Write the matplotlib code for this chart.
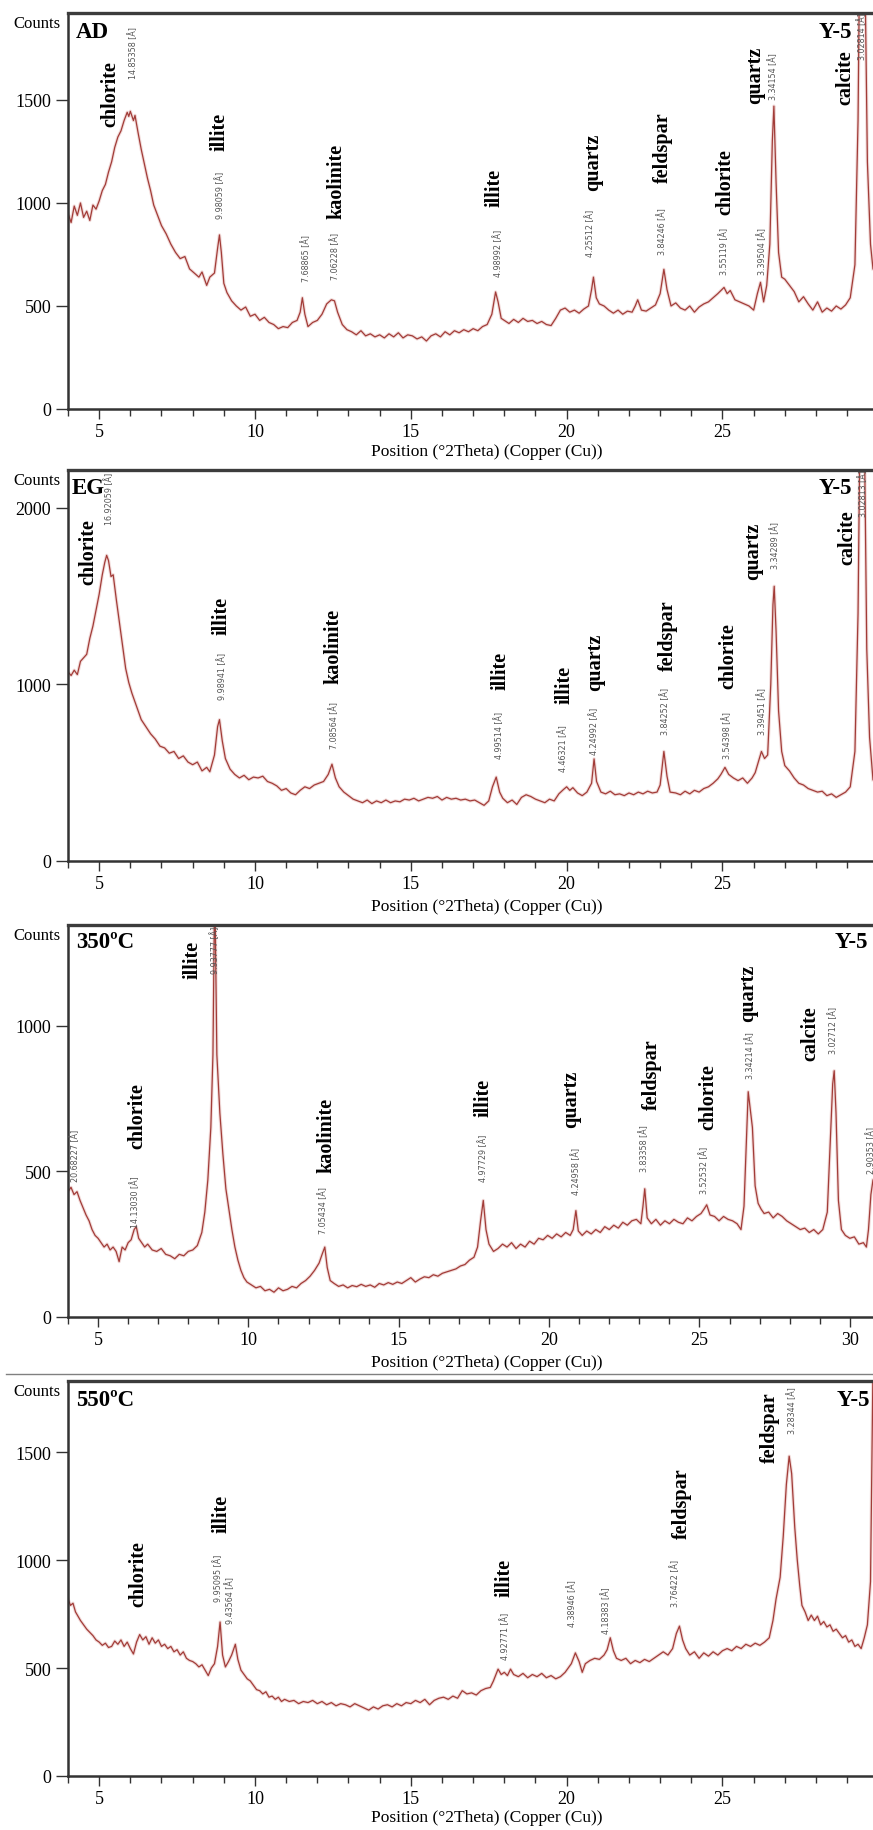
import matplotlib.pyplot as plt
from matplotlib.ticker import MultipleLocator

plt.rcParams['font.family'] = ['Liberation Serif', 'DejaVu Serif']

W, H = 873, 1831

# ---------------- data (2theta in degrees, intensity in counts) ----------------
ad_2theta = [
    4.00, 4.10, 4.20, 4.30, 4.40, 4.50, 4.60, 4.70, 4.80, 4.90,
    5.00, 5.10, 5.20, 5.30, 5.40, 5.50, 5.60, 5.70, 5.80, 5.90,
    5.95, 6.00, 6.10, 6.15, 6.25, 6.35, 6.45, 6.55, 6.65, 6.75,
    6.85, 7.00, 7.15, 7.30, 7.45, 7.60, 7.75, 7.90, 8.05, 8.20,
    8.30, 8.45, 8.55, 8.70, 8.80, 8.86, 8.92, 9.00, 9.10, 9.25,
    9.40, 9.55, 9.70, 9.85, 10.00, 10.15, 10.30, 10.45, 10.60, 10.75,
    10.90, 11.05, 11.20, 11.35, 11.45, 11.52, 11.60, 11.70, 11.85, 12.00,
    12.15, 12.30, 12.45, 12.55, 12.65, 12.80, 12.95, 13.10, 13.25, 13.40,
    13.55, 13.70, 13.85, 14.00, 14.15, 14.30, 14.45, 14.60, 14.75, 14.90,
    15.05, 15.20, 15.35, 15.50, 15.65, 15.80, 15.95, 16.10, 16.25, 16.40,
    16.55, 16.70, 16.85, 17.00, 17.15, 17.30, 17.45, 17.60, 17.72, 17.80,
    17.90, 18.00, 18.15, 18.30, 18.45, 18.60, 18.75, 18.90, 19.05, 19.20,
    19.35, 19.50, 19.65, 19.80, 19.95, 20.10, 20.25, 20.40, 20.55, 20.70,
    20.80, 20.86, 20.95, 21.05, 21.20, 21.35, 21.50, 21.65, 21.80, 21.95,
    22.10, 22.20, 22.28, 22.40, 22.55, 22.70, 22.85, 23.00, 23.12, 23.22,
    23.35, 23.50, 23.65, 23.80, 23.95, 24.10, 24.25, 24.40, 24.55, 24.70,
    24.85, 24.95, 25.05, 25.15, 25.25, 25.40, 25.55, 25.70, 25.85, 26.00,
    26.12, 26.22, 26.32, 26.42, 26.52, 26.60, 26.65, 26.72, 26.80, 26.90,
    27.00, 27.15, 27.30, 27.45, 27.60, 27.75, 27.90, 28.05, 28.20, 28.35,
    28.50, 28.65, 28.80, 28.95, 29.10, 29.25, 29.35, 29.42, 29.47, 29.55,
    29.65, 29.75, 29.83,
]
ad_counts = [
    950, 905, 985, 940, 1000, 930, 960, 915, 990, 970,
    1010, 1060, 1090, 1150, 1200, 1270, 1320, 1350, 1400, 1440,
    1420, 1445, 1400, 1425, 1340, 1260, 1190, 1120, 1060, 990,
    950, 890, 850, 800, 760, 730, 740, 680, 660, 640,
    665, 600, 640, 660, 780, 845, 760, 610, 565, 525,
    500, 480, 495, 450, 460, 430, 445, 420, 410, 390,
    400, 395, 420, 430, 470, 540, 460, 400, 420, 430,
    460, 510, 530, 525, 470, 410, 385, 375, 360, 380,
    355, 365, 350, 360, 345, 365, 350, 370, 345, 360,
    355, 340, 350, 330, 355, 365, 350, 375, 360, 380,
    370, 385, 375, 390, 380, 400, 410, 460, 568, 520,
    440, 430, 415, 435, 420, 440, 425, 430, 415, 425,
    410, 405, 440, 480, 490, 470, 480, 465, 485, 500,
    580, 640, 540, 510, 500, 480, 465, 480, 460, 475,
    470, 500, 530, 480, 475, 490, 505, 560, 678, 580,
    500, 515, 490, 480, 500, 470, 495, 510, 520, 540,
    560, 575, 590, 560, 575, 530, 520, 510, 500, 480,
    560, 615, 520, 600, 800, 1300, 1470, 1100, 760, 640,
    630, 600, 570, 520, 545, 510, 480, 520, 470, 490,
    475, 500, 485, 505, 540, 700, 1400, 2500, 3000, 2400,
    1200, 800, 680,
]

eg_2theta = [
    4.00, 4.10, 4.20, 4.30, 4.40, 4.50, 4.60, 4.70, 4.80, 4.90,
    5.00, 5.10, 5.18, 5.24, 5.30, 5.38, 5.45, 5.55, 5.65, 5.75,
    5.85, 5.95, 6.05, 6.15, 6.25, 6.35, 6.50, 6.65, 6.80, 6.95,
    7.10, 7.25, 7.40, 7.55, 7.70, 7.85, 8.00, 8.15, 8.30, 8.45,
    8.55, 8.70, 8.80, 8.86, 8.95, 9.05, 9.20, 9.35, 9.50, 9.65,
    9.80, 9.95, 10.10, 10.25, 10.40, 10.55, 10.70, 10.85, 11.00, 11.15,
    11.30, 11.45, 11.60, 11.75, 11.90, 12.05, 12.20, 12.35, 12.47, 12.58,
    12.70, 12.85, 13.00, 13.15, 13.30, 13.45, 13.60, 13.75, 13.90, 14.05,
    14.20, 14.35, 14.50, 14.65, 14.80, 14.95, 15.10, 15.25, 15.40, 15.55,
    15.70, 15.85, 16.00, 16.15, 16.30, 16.45, 16.60, 16.75, 16.90, 17.05,
    17.20, 17.35, 17.50, 17.62, 17.74, 17.85, 17.95, 18.10, 18.25, 18.40,
    18.55, 18.70, 18.85, 19.00, 19.15, 19.30, 19.45, 19.60, 19.75, 19.90,
    20.00, 20.10, 20.20, 20.35, 20.50, 20.65, 20.80, 20.88, 20.96, 21.10,
    21.25, 21.40, 21.55, 21.70, 21.85, 22.00, 22.15, 22.30, 22.45, 22.60,
    22.75, 22.90, 23.00, 23.12, 23.22, 23.32, 23.50, 23.65, 23.80, 23.95,
    24.10, 24.25, 24.40, 24.55, 24.70, 24.85, 24.95, 25.08, 25.20, 25.35,
    25.50, 25.65, 25.80, 25.95, 26.05, 26.15, 26.25, 26.35, 26.45, 26.55,
    26.62, 26.66, 26.72, 26.80, 26.90, 27.00, 27.15, 27.30, 27.45, 27.60,
    27.75, 27.90, 28.05, 28.20, 28.35, 28.50, 28.65, 28.80, 28.95, 29.10,
    29.25, 29.35, 29.42, 29.47, 29.55, 29.63, 29.72, 29.83,
]
eg_counts = [
    1070, 1050, 1080, 1055, 1130, 1150, 1170, 1260, 1330, 1420,
    1510, 1620, 1690, 1730, 1700, 1610, 1620, 1480, 1350, 1220,
    1090, 1010, 950, 900, 850, 800, 760, 720, 690, 650,
    640, 610, 620, 580, 595, 560, 545, 560, 510, 530,
    505, 600, 760, 800, 680, 580, 520, 490, 470, 485,
    460, 475, 470, 480, 450, 440, 425, 400, 410, 385,
    375, 400, 420, 410, 430, 440, 450, 490, 548, 470,
    420, 390, 370, 350, 340, 330, 345, 325, 340, 330,
    345, 330, 340, 335, 350, 345, 355, 340, 350, 360,
    355, 365, 345, 360, 350, 355, 345, 350, 340, 345,
    330, 315, 340, 420, 475, 390, 355, 330, 345, 320,
    360, 375, 365, 350, 340, 330, 350, 340, 380, 405,
    420, 400, 415, 385, 370, 390, 440, 578, 450, 390,
    380, 395, 375, 380, 370, 385, 375, 390, 380, 395,
    385, 390, 430, 620, 480, 390, 385, 375, 395, 380,
    400, 390, 410, 420, 440, 465, 490, 530, 490, 470,
    455, 470, 440, 470, 500, 560, 620, 580, 600, 1000,
    1450, 1555, 1300, 850, 620, 540, 510, 470, 440, 430,
    410, 400, 390, 395, 370, 380, 360, 375, 390, 420,
    620, 1400, 2600, 3200, 2500, 1200, 700, 460,
]

h350_2theta = [
    4.00, 4.10, 4.20, 4.30, 4.40, 4.50, 4.60, 4.70, 4.80, 4.90,
    5.00, 5.10, 5.20, 5.30, 5.40, 5.50, 5.60, 5.70, 5.80, 5.90,
    6.00, 6.10, 6.20, 6.27, 6.35, 6.45, 6.55, 6.65, 6.80, 6.95,
    7.10, 7.25, 7.40, 7.55, 7.70, 7.85, 8.00, 8.15, 8.30, 8.45,
    8.55, 8.65, 8.75, 8.82, 8.88, 8.95, 9.05, 9.15, 9.25, 9.35,
    9.45, 9.55, 9.65, 9.75, 9.85, 9.95, 10.10, 10.25, 10.40, 10.55,
    10.70, 10.85, 11.00, 11.15, 11.30, 11.45, 11.60, 11.75, 11.90, 12.05,
    12.20, 12.35, 12.45, 12.54, 12.62, 12.72, 12.85, 13.00, 13.15, 13.30,
    13.45, 13.60, 13.75, 13.90, 14.05, 14.20, 14.35, 14.50, 14.65, 14.80,
    14.95, 15.10, 15.25, 15.40, 15.55, 15.70, 15.85, 16.00, 16.15, 16.30,
    16.45, 16.60, 16.75, 16.90, 17.05, 17.20, 17.35, 17.50, 17.62, 17.72,
    17.81, 17.90, 18.00, 18.15, 18.30, 18.45, 18.60, 18.75, 18.90, 19.05,
    19.20, 19.35, 19.50, 19.65, 19.80, 19.95, 20.10, 20.25, 20.40, 20.55,
    20.70, 20.80, 20.89, 20.97, 21.10, 21.25, 21.40, 21.55, 21.70, 21.85,
    22.00, 22.15, 22.30, 22.45, 22.60, 22.75, 22.90, 23.05, 23.12, 23.18,
    23.26, 23.40, 23.55, 23.70, 23.85, 24.00, 24.15, 24.30, 24.45, 24.60,
    24.75, 24.90, 25.05, 25.15, 25.24, 25.35, 25.50, 25.65, 25.80, 25.95,
    26.10, 26.25, 26.38, 26.48, 26.56, 26.62, 26.68, 26.76, 26.85, 26.95,
    27.05, 27.15, 27.30, 27.45, 27.60, 27.75, 27.90, 28.05, 28.20, 28.35,
    28.50, 28.65, 28.80, 28.95, 29.10, 29.25, 29.35, 29.43, 29.48, 29.54,
    29.62, 29.72, 29.85, 30.00, 30.15, 30.30, 30.45, 30.55, 30.62, 30.70,
    30.77,
]
h350_counts = [
    430, 445, 420, 430, 400, 375, 350, 330, 300, 280,
    270, 255, 240, 250, 230, 240, 225, 190, 240, 230,
    255, 265, 300, 310, 270, 255, 240, 250, 230, 225,
    235, 215, 210, 200, 215, 210, 225, 230, 245, 290,
    360, 470, 650, 900, 1500, 900, 700, 560, 440, 370,
    300, 240, 195, 160, 135, 120, 110, 100, 105, 90,
    95, 85, 100, 90, 95, 105, 100, 115, 125, 140,
    160, 185, 215, 240, 170, 125, 115, 105, 110, 100,
    108, 104, 112, 105, 110, 102, 115, 110, 118, 112,
    120, 115, 125, 135, 120, 130, 138, 135, 145, 140,
    150, 155, 160, 165, 175, 180, 195, 205, 240, 330,
    400, 300, 250, 225, 235, 250, 240, 255, 235, 250,
    240, 260, 250, 270, 265, 280, 270, 285, 275, 290,
    280, 300, 365, 295, 280, 295, 285, 300, 290, 310,
    300, 315, 305, 325, 315, 330, 335, 320, 380, 440,
    340, 320, 335, 315, 330, 320, 335, 325, 320, 340,
    330, 345, 355, 370, 385, 350, 345, 330, 345, 335,
    330, 320, 300, 380, 600, 773, 720, 650, 450, 390,
    370, 355, 360, 340, 355, 345, 330, 320, 310, 300,
    305, 290, 300, 285, 300, 360, 600, 800, 845, 700,
    400, 300, 280, 270, 275, 250, 255, 240, 300, 420,
    470,
]

h550_2theta = [
    4.00, 4.08, 4.16, 4.24, 4.32, 4.40, 4.50, 4.60, 4.70, 4.80,
    4.90, 5.00, 5.10, 5.20, 5.30, 5.40, 5.50, 5.60, 5.70, 5.80,
    5.90, 6.00, 6.10, 6.20, 6.30, 6.40, 6.50, 6.60, 6.70, 6.80,
    6.90, 7.00, 7.10, 7.20, 7.30, 7.40, 7.50, 7.60, 7.70, 7.80,
    7.90, 8.00, 8.10, 8.20, 8.30, 8.40, 8.50, 8.60, 8.70, 8.80,
    8.88, 8.96, 9.05, 9.15, 9.25, 9.37, 9.45, 9.55, 9.65, 9.75,
    9.85, 9.95, 10.05, 10.15, 10.25, 10.35, 10.45, 10.55, 10.65, 10.75,
    10.85, 10.95, 11.10, 11.25, 11.40, 11.55, 11.70, 11.85, 12.00, 12.15,
    12.30, 12.45, 12.60, 12.75, 12.90, 13.05, 13.20, 13.35, 13.50, 13.65,
    13.80, 13.95, 14.10, 14.25, 14.40, 14.55, 14.70, 14.85, 15.00, 15.15,
    15.30, 15.45, 15.60, 15.75, 15.90, 16.05, 16.20, 16.35, 16.50, 16.65,
    16.80, 16.95, 17.10, 17.25, 17.40, 17.55, 17.65, 17.80, 17.90, 18.00,
    18.10, 18.20, 18.30, 18.45, 18.60, 18.75, 18.90, 19.05, 19.20, 19.35,
    19.50, 19.65, 19.80, 19.95, 20.05, 20.15, 20.28, 20.40, 20.50, 20.60,
    20.75, 20.90, 21.05, 21.20, 21.30, 21.40, 21.50, 21.60, 21.75, 21.90,
    22.05, 22.20, 22.35, 22.50, 22.65, 22.80, 22.95, 23.10, 23.25, 23.40,
    23.52, 23.62, 23.72, 23.82, 23.95, 24.10, 24.25, 24.40, 24.55, 24.70,
    24.85, 25.00, 25.15, 25.30, 25.45, 25.60, 25.75, 25.90, 26.05, 26.20,
    26.35, 26.50, 26.62, 26.72, 26.85, 26.95, 27.05, 27.14, 27.22, 27.32,
    27.40, 27.48, 27.55, 27.65, 27.75, 27.85, 27.95, 28.05, 28.15, 28.25,
    28.35, 28.45, 28.55, 28.65, 28.75, 28.85, 28.95, 29.05, 29.15, 29.25,
    29.35, 29.45, 29.55, 29.65, 29.75, 29.83,
]
h550_counts = [
    820, 790, 800, 760, 740, 720, 700, 680, 665, 650,
    630, 620, 605, 615, 595, 600, 625, 610, 630, 600,
    620, 590, 565, 620, 655, 630, 645, 610, 640, 615,
    630, 600, 610, 590, 600, 575, 585, 560, 575, 545,
    535, 530, 520, 505, 515, 490, 465, 500, 520, 600,
    713, 560, 505, 530, 560, 610, 540, 490, 470, 450,
    440, 420, 400, 395, 380, 390, 365, 370, 355, 365,
    345, 355, 345, 350, 335, 345, 340, 350, 335, 345,
    330, 340, 325, 335, 330, 320, 335, 325, 315, 305,
    320, 310, 325, 330, 320, 335, 325, 340, 335, 350,
    340, 355, 330, 350, 360, 365, 355, 370, 360, 395,
    380, 385, 375, 395, 405, 410, 440, 495, 470, 480,
    465, 495, 470, 460, 475, 455, 470, 460, 475, 455,
    465, 450, 460, 480, 500, 520, 570, 530, 480, 520,
    535, 545, 540, 560, 585, 640, 580, 545, 535, 545,
    520, 535, 525, 540, 530, 545, 560, 575, 560, 590,
    660, 694, 630, 590, 560, 575, 545, 570, 555, 575,
    560, 580, 590, 580, 600, 590, 610, 600, 615, 605,
    620, 640, 720, 820, 920, 1110, 1350, 1481, 1400, 1150,
    1000, 880, 790, 760, 720, 745, 720, 740, 700, 715,
    690, 700, 670, 680, 660, 640, 650, 620, 630, 600,
    610, 590, 640, 700, 900, 1900,
]

panel_titles = ['AD', 'EG', '350ºC', '550ºC']
sample_name = 'Y-5'
y_ticks = [[0, 500, 1000, 1500], [0, 1000, 2000], [0, 500, 1000], [0, 500, 1000, 1500]]

# mineral labels: text, x pixel, y pixel (centre)
ad_minerals = [('chlorite', 110, 94), ('illite', 220, 132), ('kaolinite', 336, 181),
               ('illite', 495, 188), ('quartz', 593, 162), ('feldspar', 663, 148),
               ('chlorite', 725, 182), ('quartz', 755, 75), ('calcite', 845, 78)]
eg_minerals = [('chlorite', 88, 552), ('illite', 222, 616), ('kaolinite', 333, 646),
               ('illite', 501, 671), ('illite', 565, 685), ('quartz', 595, 662),
               ('feldspar', 668, 636), ('chlorite', 728, 656), ('quartz', 753, 551),
               ('calcite', 847, 538)]
h350_minerals = [('illite', 193, 960), ('chlorite', 137, 1116), ('kaolinite', 326, 1135),
                 ('illite', 484, 1098), ('quartz', 571, 1099), ('feldspar', 652, 1075),
                 ('chlorite', 708, 1097), ('quartz', 748, 993), ('calcite', 810, 1034)]
h550_minerals = [('chlorite', 138, 1574), ('illite', 222, 1514), ('illite', 505, 1578),
                 ('feldspar', 682, 1504), ('feldspar', 770, 1428)]

# d-spacing labels: value, x pixel, y pixel (top end)
ad_dspacing = [('14.85358', 133, 27), ('9.98059', 220, 172), ('7.68865', 306, 235),
               ('7.06228', 335, 233), ('4.98992', 498, 230), ('4.25512', 590, 210),
               ('3.84246', 662, 208), ('3.55119', 724, 228), ('3.39504', 762, 228),
               ('3.34154', 773, 53), ('3.02814', 862, 13)]
eg_dspacing = [('16.92059', 109, 473), ('9.98941', 222, 653), ('7.08564', 334, 702),
               ('4.99514', 499, 712), ('4.46321', 563, 725), ('4.24992', 594, 708),
               ('3.84252', 665, 688), ('3.54398', 727, 712), ('3.39451', 762, 688),
               ('3.34289', 775, 522), ('3.02813', 863, 470)]
h350_dspacing = [('20.68227', 75, 1130), ('14.13030', 135, 1176), ('9.93777', 215, 927),
                 ('7.05434', 323, 1187), ('4.97729', 483, 1135), ('4.24958', 576, 1148),
                 ('3.83358', 644, 1125), ('3.52532', 704, 1147), ('3.34214', 750, 1032),
                 ('3.02712', 833, 1007), ('2.90353', 871, 1127)]
h550_dspacing = [('9.95095', 218, 1555), ('9.43564', 230, 1577), ('4.92771', 505, 1613),
                 ('4.38946', 572, 1580), ('4.18383', 606, 1587), ('3.76422', 675, 1560),
                 ('3.28344', 792, 1387)]


def fx(x):
    return x / W


def fy(y):
    return 1 - y / H


fig = plt.figure(figsize=(W / 100, H / 100), dpi=100)

# layout of each panel: top pixel, zero-line pixel, x max, y max, title x, title y, xlabel y, Y-5 right edge
layout = [
    (14, 410, 29.83, 1922, 76, 32, 452, 852),
    (471, 862, 29.83, 2213, 72, 488, 907, 852),
    (926, 1318, 30.77, 1345, 76, 943, 1363, 868),
    (1382, 1777, 29.83, 1829, 76, 1401, 1818, 870),
]
series = [(ad_2theta, ad_counts), (eg_2theta, eg_counts),
          (h350_2theta, h350_counts), (h550_2theta, h550_counts)]
minerals = [ad_minerals, eg_minerals, h350_minerals, h550_minerals]
dspacings = [ad_dspacing, eg_dspacing, h350_dspacing, h550_dspacing]

line_color = '#a23c38'

for i in range(4):
    top, zero, xmax, ymax, tx, ty, xly, yr = layout[i]
    ax = fig.add_axes([fx(68), fy(zero), (W - 68) / W, (zero - top) / H])
    x, y = series[i]
    ax.plot(x, y, color='#e9c4c2', lw=2.4, alpha=0.6)
    ax.plot(x, y, color=line_color, lw=0.9)
    ax.set_xlim(4, xmax)
    ax.set_ylim(0, ymax)

    ax.spines['right'].set_visible(False)
    ax.spines['top'].set_linewidth(2.4)
    ax.spines['top'].set_color('#3c3c3c')
    ax.spines['left'].set_linewidth(1.8)
    ax.spines['left'].set_color('#333333')
    ax.spines['bottom'].set_linewidth(1.8)
    ax.spines['bottom'].set_color('#333333')

    ax.xaxis.set_major_locator(MultipleLocator(5))
    ax.xaxis.set_minor_locator(MultipleLocator(1))
    ax.set_yticks(y_ticks[i])
    ax.tick_params(axis='both', which='major', direction='out', length=7, width=1,
                   color='#333333', labelsize=13, pad=3)
    ax.tick_params(axis='x', which='minor', direction='out', length=5, width=1, color='#333333')
    ax.tick_params(axis='y', which='major', length=9)

    fig.text(fx(13), fy(top + 10), 'Counts', fontsize=12, ha='left', va='center')
    fig.text(fx(tx), fy(ty), panel_titles[i], fontsize=16.5, fontweight='bold',
             ha='left', va='center')
    fig.text(fx(yr), fy(ty), sample_name, fontsize=16.5, fontweight='bold',
             ha='right', va='center')
    fig.text(fx(487), fy(xly), 'Position (°2Theta) (Copper (Cu))', fontsize=12.5,
             ha='center', va='center')

    for name, px, py in minerals[i]:
        fig.text(fx(px), fy(py), name, rotation=90, fontsize=14.5, fontweight='bold',
                 ha='center', va='center')
    for d, px, py in dspacings[i]:
        fig.text(fx(px), fy(py), d + ' [Å]', rotation=90, fontsize=5.8,
                 family='DejaVu Sans', color='#555555', ha='center', va='top')

# thin separator above the last panel
fig.add_artist(plt.Line2D([fx(6), 1], [fy(1375), fy(1375)], color='#808080', lw=1))

fig.savefig('out.png', dpi=100)
